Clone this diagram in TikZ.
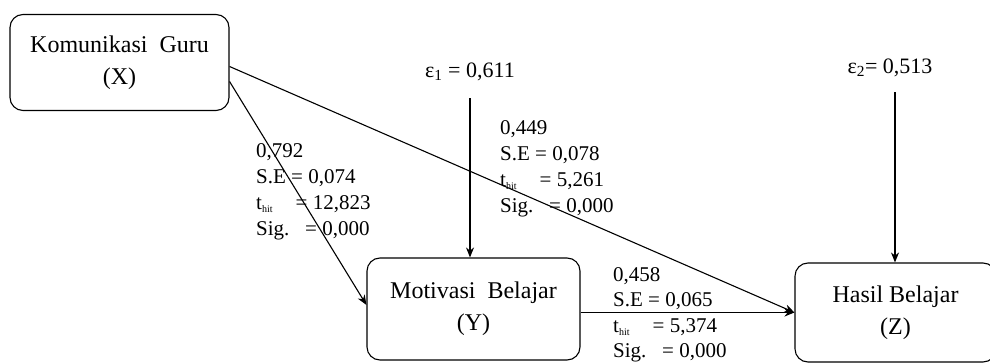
\documentclass[tikz,border=0pt]{standalone}
\usepackage{fontspec}
\setmainfont{Liberation Serif}
\usetikzlibrary{arrows.meta,positioning,calc}

\newcommand{\thit}{t\raisebox{-3pt}{\fontsize{10}{10}\selectfont hit}}

\begin{document}
\begin{tikzpicture}[
    x=1pt, y=-1pt,
    var/.style={draw, rounded corners=13pt, line width=1.1pt, align=center, font=\fontsize{24}{32}\selectfont, inner sep=0pt},
    coef/.style={anchor=north west, align=left, inner sep=0pt, font=\fontsize{21}{26}\selectfont},
    err/.style={inner sep=0pt, font=\fontsize{22}{26}\selectfont},
    arrow/.style={-{Stealth[length=10pt,width=8pt]}, line width=1.1pt}
]
\useasboundingbox (0,0) rectangle (990,363);

\node[var, minimum width=219pt, minimum height=96pt] (X) at (119.5,62.5) {Komunikasi\ \ Guru\\(X)};
\node[var, minimum width=213pt, minimum height=102pt] (Y) at (473.5,309) {Motivasi\ \ Belajar\\(Y)};
\node[var, minimum width=201pt, minimum height=99pt] (Z) at (895.5,312.5) {Hasil Belajar\\(Z)};

\node[err] (e1) at (470,72) {ε\textsubscript{1} = 0,611};
\node[err] (e2) at (890,68) {ε\textsubscript{2}= 0,513};

\node[coef] (cXY) at (256,143) {0,792\\S.E = 0,074\\\thit\hspace{1.1em}= 12,823\\Sig.\hspace{0.75em}= 0,000};
\node[coef] (cXZ) at (500,120) {0,449\\S.E = 0,078\\\thit\hspace{1.1em}= 5,261\\Sig.\hspace{0.75em}= 0,000};
\node[coef, font=\fontsize{21}{25.5}\selectfont] (cYZ) at (613,267) {0,458\\S.E = 0,065\\\thit\hspace{1.1em}= 5,374\\Sig.\hspace{0.75em}= 0,000};

\draw[arrow] ([yshift=-19pt]X.east) -- ([yshift=4pt]Y.west);
\draw[arrow] ([yshift=-4pt]X.east) -- (Z.west);
\draw[arrow] (Y.east |- Z.west) -- (Z.west);
\draw[arrow] ([yshift=-17pt]e1.south) -- (e1.south |- Y.north);
\draw[arrow] ([xshift=5pt,yshift=-15pt]e2.south) -- ([xshift=5pt]e2.south |- Z.north);
\end{tikzpicture}
\end{document}
